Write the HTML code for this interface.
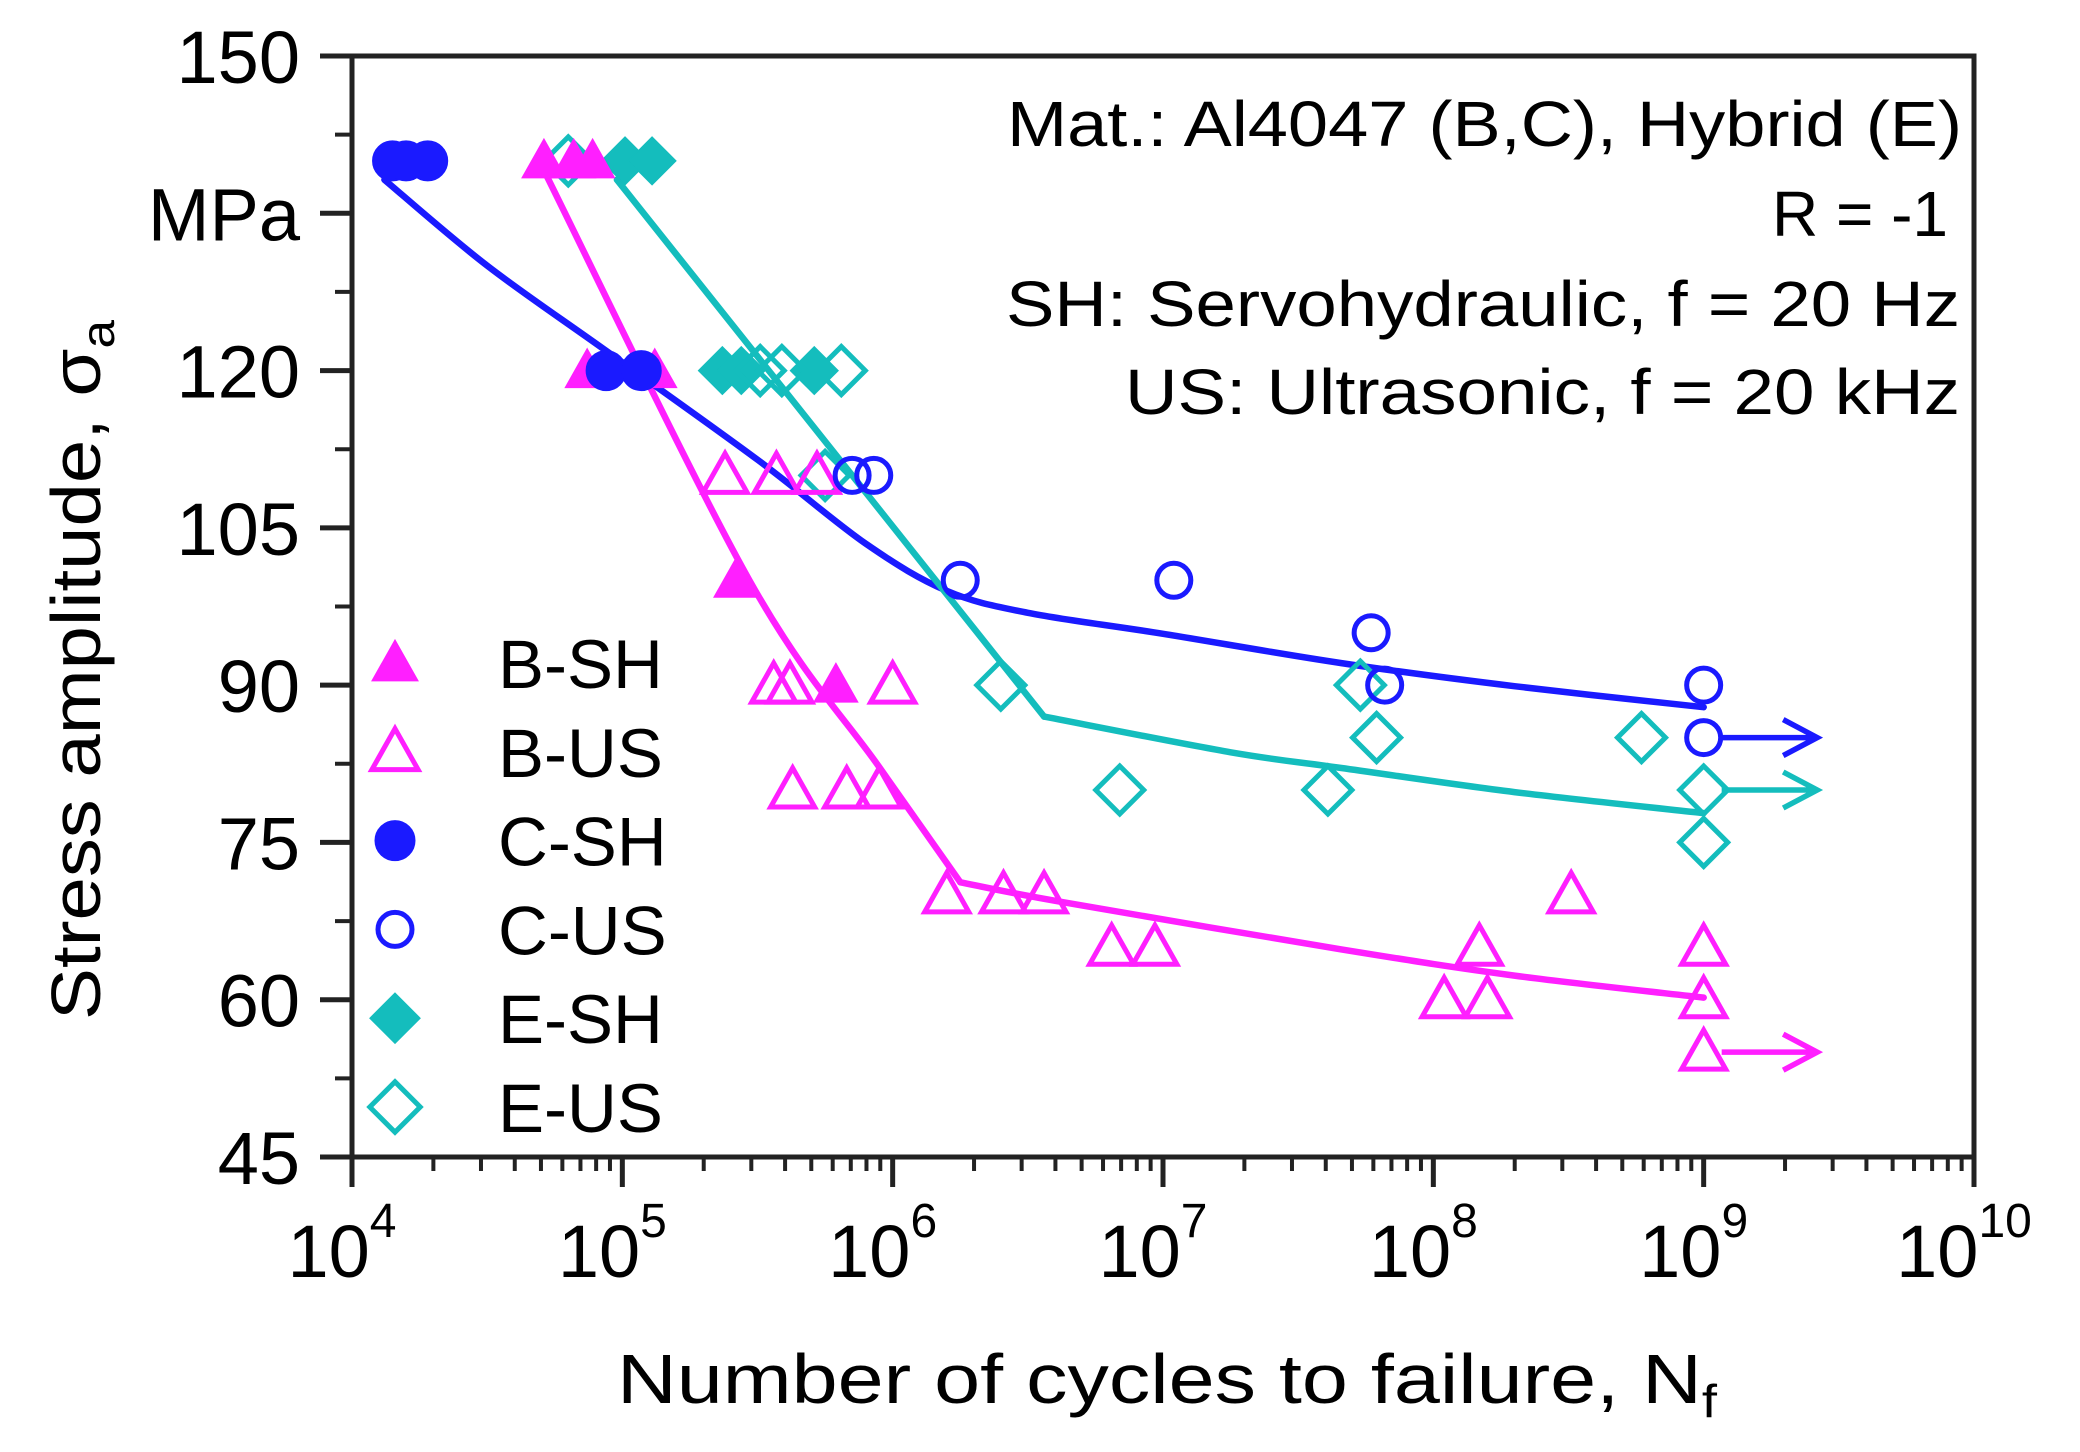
<!DOCTYPE html>
<html><head><meta charset="utf-8"><style>
html,body{margin:0;padding:0;background:#fff;}
svg{display:block;font-family:"Liberation Sans",Arial,sans-serif;}
</style></head><body>
<svg id="chart" width="2080" height="1452" viewBox="0 0 2080 1452" xmlns="http://www.w3.org/2000/svg">
<g id="axes"></g>
<g id="lines"></g>
<g id="marks"></g>
<g id="legend"></g>
<g font-size="64" text-anchor="end" fill="#000">
<text x="1962" y="146" textLength="955" lengthAdjust="spacingAndGlyphs">Mat.: Al4047 (B,C), Hybrid (E)</text>
<text x="1948" y="236">R = -1</text>
<text x="1960" y="326" textLength="954" lengthAdjust="spacingAndGlyphs">SH: Servohydraulic, f = 20 Hz</text>
<text x="1960" y="414" textLength="835" lengthAdjust="spacingAndGlyphs">US: Ultrasonic, f = 20 kHz</text>
</g>
<text x="1167" y="1403" font-size="70" text-anchor="middle" textLength="1100" lengthAdjust="spacingAndGlyphs">Number of cycles to failure, N<tspan font-size="46" dy="14">f</tspan></text>
<text transform="translate(100,670) rotate(-90)" font-size="70" text-anchor="middle" textLength="700" lengthAdjust="spacingAndGlyphs">Stress amplitude, σ<tspan font-size="46" dy="14">a</tspan></text>
</svg>
<script>
// ---- data (log10 N, stress MPa) ----
const bShN=[4.71,4.82,4.89,4.87,5.12,5.42,5.79];
const bShS=[140,140,140,120,120,100,90];
const bUsN=[5.38,5.57,5.72,5.56,5.62,6.0,5.63,5.83,5.95,6.20,6.41,6.56,6.81,6.97,8.04,8.20,8.17,8.51,9.0,9.0,9.0];
const bUsS=[110,110,110,90,90,90,80,80,80,70,70,70,65,65,60,60,65,70,65,60,55];
const cShN=[4.15,4.20,4.28,4.94,5.07];
const cShS=[140,140,140,120,120];
const cUsN=[5.85,5.93,6.25,7.04,7.77,7.82,9.0,9.0];
const cUsS=[110,110,100,100,95,90,90,85];
const eShN=[5.01,5.11,5.37,5.44,5.71];
const eShS=[140,140,120,120,120];
const eUsN=[4.80,5.51,5.59,5.81,5.75,6.40,7.73,7.79,8.77,6.84,7.61,9.0,9.0];
const eUsS=[140,120,120,120,110,90,90,85,85,80,80,80,75];
// fit curves (segments split at knees)
const fitBN1=[4.71,5.47,5.95,6.25];
const fitBS1=[139.1,100,82.2,71.2];
const fitBN2=[6.25,6.63,7.66,8.3,9.0];
const fitBS2=[71.2,69.3,64.8,62.3,60.2];
const fitCN=[4.12,4.5,4.95,5.5,5.9,6.2,6.5,7.0,7.66,8.3,9.0];
const fitCS=[138.2,130,121.7,111.5,103.5,99,96.9,94.9,92.1,89.9,87.9];
const fitEN1=[4.98,6.56];
const fitES1=[138.2,87];
const fitEN2=[6.56,7.25,7.66,8.3,9.0];
const fitES2=[87,83.6,82.1,79.8,77.8];
// run-out arrows
const arrowN=[9.0,9.0,9.0];
const arrowS=[85,80,55];
const arrowEnd=9.42;
const yTicks=[45,60,75,90,105,120,135,150];
const yLabels=["45","60","75","90","105","120","MPa","150"];
const xTicks=[4,5,6,7,8,9,10];

const X0=352,X1=1974,Y0=56,Y1=1157;
const xs=v=>X0+(v-4)/6*(X1-X0);
const ys=v=>Y0+(150-v)/105*(Y1-Y0);
const NS="http://www.w3.org/2000/svg";
function mk(tag,attrs,parent){const e=document.createElementNS(NS,tag);for(const k in attrs)e.setAttribute(k,attrs[k]);parent.appendChild(e);return e;}
const axes=document.getElementById('axes');
let e;
e=mk('path',{d:`M${X0} ${Y0}V${Y1}H${X1}V${Y0}H${X0}`,fill:'none',stroke:'#222','stroke-width':5},axes);


for(let i=0;i<yTicks.length;i++){
  const y=ys(yTicks[i]);
  e=mk('line',{x1:X0-32,x2:X0,y1:y,y2:y,stroke:'#222','stroke-width':5},axes);
  
  
  if(i<yTicks.length-1){
    const ym=ys(yTicks[i]+7.5);
    e=mk('line',{x1:X0-17,x2:X0,y1:ym,y2:ym,stroke:'#222','stroke-width':4},axes);
    
    
  }
  e=mk('text',{x:300,y:y+27,'font-size':74,'text-anchor':'end'},axes);
  e.textContent=yLabels[i];
  
  
}
for(let i=0;i<xTicks.length;i++){
  const x=xs(xTicks[i]);
  e=mk('line',{x1:x,x2:x,y1:Y1,y2:Y1+30,stroke:'#222','stroke-width':5},axes);
  
  
  if(i<xTicks.length-1){
    for(let m=2;m<=9;m++){
      const xm=xs(xTicks[i]+Math.log10(m));
      e=mk('line',{x1:xm,x2:xm,y1:Y1,y2:Y1+14,stroke:'#222','stroke-width':4},axes);
      
      
    }
  }
  const t=mk('text',{x:x-10,y:1277,'font-size':74,'text-anchor':'middle'},axes);
  
  
  t.appendChild(document.createTextNode('10'));
  const sp=mk('tspan',{'font-size':48,dy:-40},t);
  sp.textContent=String(xTicks[i]);
}
const lines=document.getElementById('lines');
function smoothPath(N,S){
  const P=N.map((n,i)=>[xs(n),ys(S[i])]);
  let d='M'+P[0][0].toFixed(1)+' '+P[0][1].toFixed(1);
  for(let i=0;i<P.length-1;i++){
    const p0=P[Math.max(i-1,0)],p1=P[i],p2=P[i+1],p3=P[Math.min(i+2,P.length-1)];
    const c1=[p1[0]+(p2[0]-p0[0])/6,p1[1]+(p2[1]-p0[1])/6];
    const c2=[p2[0]-(p3[0]-p1[0])/6,p2[1]-(p3[1]-p1[1])/6];
    d+=`C${c1[0].toFixed(1)} ${c1[1].toFixed(1)} ${c2[0].toFixed(1)} ${c2[1].toFixed(1)} ${p2[0].toFixed(1)} ${p2[1].toFixed(1)}`;
  }
  return d;
}
function fit(N,S,col,name){
  const p=mk('path',{d:smoothPath(N,S),fill:'none',stroke:col,'stroke-width':6.5,'stroke-linejoin':'round','stroke-linecap':'round'},lines);
  
  
}
const MAG='#ff1fff',BLU='#1a1aff',CYA='#14bdbd';
fit(fitBN1,fitBS1,MAG,'fit-line-b');
fit(fitBN2,fitBS2,MAG,'fit-line-b');
fit(fitCN,fitCS,BLU,'fit-line-c');
fit(fitEN1,fitES1,CYA,'fit-line-e');
fit(fitEN2,fitES2,CYA,'fit-line-e');
const arrowCols=[BLU,CYA,MAG];
for(let i=0;i<arrowN.length;i++){
  const x0=xs(arrowN[i])+18,x1=xs(arrowEnd),y=ys(arrowS[i]);
  const a=mk('path',{d:`M${x0} ${y}H${x1}M${x1-34} ${y-18}L${x1} ${y}L${x1-34} ${y+18}`,fill:'none',stroke:arrowCols[i],'stroke-width':5.5},lines);
  
  
}
const marks=document.getElementById('marks');
function marker(kind,cx,cy,col,filled,parent,sz){
  const s=sz||1;let el;
  const fill=filled?col:'none',sw=filled?1:5;
  if(kind==='tri'){el=mk('path',{d:`M${cx} ${cy-22*s}L${cx+22*s} ${cy+17*s}L${cx-22*s} ${cy+17*s}Z`,fill:fill,stroke:col,'stroke-width':sw},parent);}
  else if(kind==='cir'){el=mk('circle',{cx:cx,cy:cy,r:filled?20:17,fill:fill,stroke:col,'stroke-width':sw},parent);}
  else {el=mk('path',{d:`M${cx} ${cy-24*s}L${cx+24*s} ${cy}L${cx} ${cy+24*s}L${cx-24*s} ${cy}Z`,fill:fill,stroke:col,'stroke-width':sw},parent);}
  return el;
}
function series(N,S,kind,col,filled,name){
  for(let i=0;i<N.length;i++){
    const m=marker(kind,xs(N[i]),ys(S[i]),col,filled,marks);
    
    
  }
}
series(eShN,eShS,'dia',CYA,true,'point-e-sh');
series(eUsN,eUsS,'dia',CYA,false,'point-e-us');
series(bShN,bShS,'tri',MAG,true,'point-b-sh');
series(bUsN,bUsS,'tri',MAG,false,'point-b-us');
series(cShN,cShS,'cir',BLU,true,'point-c-sh');
series(cUsN,cUsS,'cir',BLU,false,'point-c-us');
const legend=document.getElementById('legend');
const legNames=['B-SH','B-US','C-SH','C-US','E-SH','E-US'];
const legKinds=['tri','tri','cir','cir','dia','dia'];
const legCols=[MAG,MAG,BLU,BLU,CYA,CYA];
const legFill=[true,false,true,false,true,false];
for(let i=0;i<legNames.length;i++){
  const cy=663+i*88.8;
  const m=marker(legKinds[i],395,cy,legCols[i],legFill[i],legend,1.05);
  
  
  const t=mk('text',{x:498,y:cy+25,'font-size':69},legend);
  t.textContent=legNames[i];
  
  
}
</script>
</body></html>
